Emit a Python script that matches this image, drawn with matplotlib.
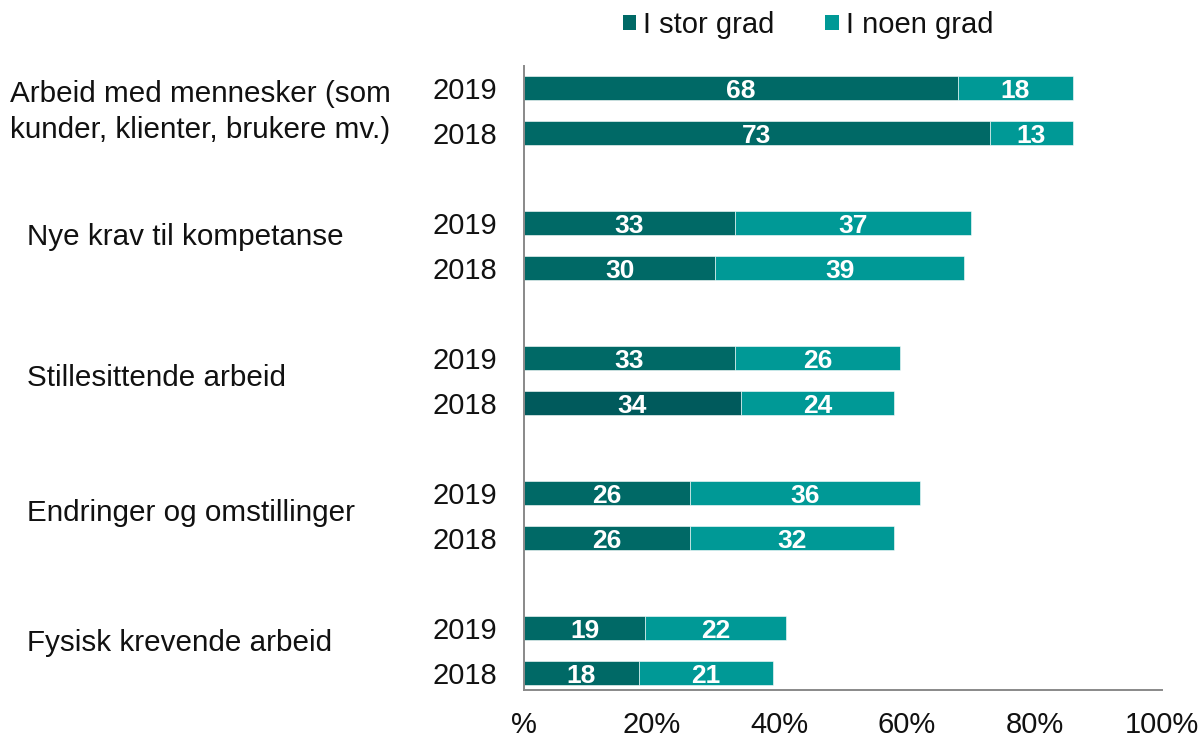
import matplotlib
matplotlib.use("Agg")
import matplotlib.pyplot as plt
from matplotlib.patches import Patch

plt.rcParams['font.family'] = ['Liberation Sans', 'DejaVu Sans']

categories = ["Arbeid med mennesker (som\nkunder, klienter, brukere mv.)",
              "Nye krav til kompetanse",
              "Stillesittende arbeid",
              "Endringer og omstillinger",
              "Fysisk krevende arbeid"]
years = ["2019", "2018"]
stor_2019 = [68, 33, 33, 26, 19]
noen_2019 = [18, 37, 26, 36, 22]
stor_2018 = [73, 30, 34, 26, 18]
noen_2018 = [13, 39, 24, 32, 21]
xticklabels = ["%", "20%", "40%", "60%", "80%", "100%"]
series_names = ["I stor grad", "I noen grad"]

dark = "#006966"
darker = "#005a5c"
light = "#009996"
txt = "#111111"

W, H = 1202, 740
fig = plt.figure(figsize=(W / 100, H / 100), dpi=100)
ax = fig.add_axes([524 / W, 1 - 690 / H, (1162 - 524) / W, (690 - 66) / H])

bar_h = 24 / 45
ypos, stor, noen, ylab = [], [], [], []
for i in range(len(categories)):
    ypos += [i * 3, i * 3 + 1]
    stor += [stor_2019[i], stor_2018[i]]
    noen += [noen_2019[i], noen_2018[i]]
    ylab += years

stor_colors = [dark] * len(stor)
stor_colors[5] = darker  # Stillesittende 2018 slightly darker in reference

ax.barh(ypos, stor, height=bar_h, color=stor_colors, edgecolor="white", linewidth=0.4)
ax.barh(ypos, noen, left=stor, height=bar_h, color=light, edgecolor="white", linewidth=0.4)

for y, s, n in zip(ypos, stor, noen):
    ax.text(s / 2, y + 0.02, str(s), ha="center", va="center_baseline", color="white",
            fontsize=19, fontweight="bold")
    ax.text(s + n / 2, y + 0.02, str(n), ha="center", va="center_baseline", color="white",
            fontsize=19, fontweight="bold")

ax.set_xlim(0, 100)
ax.set_ylim(13 + (690 - 673) / 45, -22 / 45)
ax.set_xticks([0, 20, 40, 60, 80, 100])
ax.set_xticklabels(xticklabels)
ax.set_yticks(ypos)
ax.set_yticklabels(ylab)
ax.tick_params(axis="both", length=0, labelsize=21, colors=txt)
ax.tick_params(axis="x", pad=15)
ax.tick_params(axis="y", pad=19)

for s in ["top", "right"]:
    ax.spines[s].set_visible(False)
for s in ["left", "bottom"]:
    ax.spines[s].set_color("#898989")
    ax.spines[s].set_linewidth(1.4)

# category labels
label_x_px = [10, 27, 27, 27, 27]
label_y_px = [112, 237, 378, 513, 643]
for cat, xp, yp in zip(categories, label_x_px, label_y_px):
    fig.text(xp / W, 1 - yp / H, cat, ha="left", va="center", fontsize=21.3,
             linespacing=1.4, color=txt)

handles = [Patch(facecolor=dark), Patch(facecolor=light)]
fig.legend(handles, series_names, loc="center", bbox_to_anchor=(808 / W, 1 - 25 / H),
           ncol=2, frameon=False, fontsize=21, handlelength=0.45, handleheight=0.45,
           handletextpad=0.25, columnspacing=1.75, borderpad=0, borderaxespad=0,
           labelcolor=txt)

fig.savefig("out.png", dpi=100)
